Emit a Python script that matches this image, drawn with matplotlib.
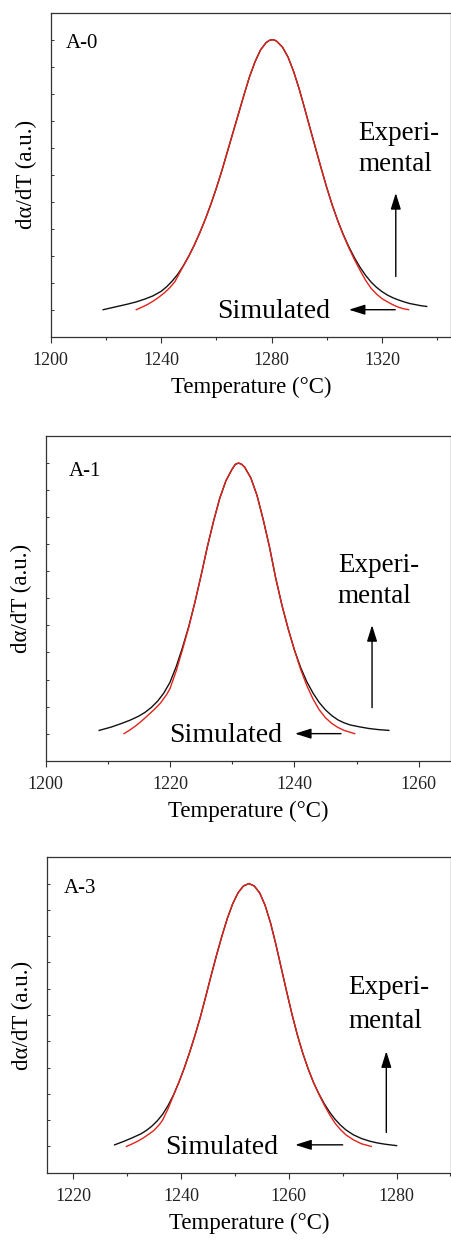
import matplotlib
matplotlib.use("Agg")
import matplotlib.pyplot as plt
from matplotlib.ticker import MultipleLocator

plt.rcParams.update(
    {
        "font.family": ["Liberation Serif", "DejaVu Serif"],
        "axes.linewidth": 0.9,
        "axes.edgecolor": "#333333",
        "xtick.color": "#333333",
        "ytick.color": "#333333",
        "xtick.labelcolor": "#222222",
    }
)

COLORS = {"exp": "#111111", "sim": "#e3231b"}

# ---- A-0 ----
A0_T_EXP = [1219, 1222, 1225, 1228, 1231, 1234, 1237, 1240, 1242, 1244,
            1246, 1248, 1250, 1252, 1254, 1256, 1258, 1260, 1262, 1264,
            1266, 1268, 1270, 1272, 1274, 1276, 1278, 1279.3, 1280.3, 1281.2,
            1282, 1284, 1286, 1288, 1290, 1292, 1294, 1296, 1298, 1300,
            1302, 1304, 1306, 1308, 1310, 1312, 1314, 1316, 1318, 1320,
            1322, 1324, 1326, 1328, 1330, 1332, 1334, 1336.2]
A0_EXP = [0.000, 0.007, 0.014, 0.021, 0.029, 0.039, 0.051, 0.068, 0.085, 0.106,
          0.131, 0.162, 0.198, 0.239, 0.285, 0.335, 0.390, 0.450, 0.515, 0.585,
          0.655, 0.725, 0.795, 0.862, 0.918, 0.962, 0.989, 0.998, 1.000, 0.998,
          0.993, 0.972, 0.935, 0.882, 0.818, 0.745, 0.670, 0.596, 0.523, 0.452,
          0.387, 0.329, 0.278, 0.233, 0.193, 0.158, 0.128, 0.103, 0.083, 0.067,
          0.054, 0.044, 0.036, 0.029, 0.023, 0.019, 0.015, 0.012]
A0_T_SIM = [1231, 1233, 1235, 1237, 1239, 1241, 1243, 1245, 1246, 1248,
            1250, 1252, 1254, 1256, 1258, 1260, 1262, 1264, 1266, 1268,
            1270, 1272, 1274, 1276, 1278, 1279.3, 1280.3, 1281.2, 1282, 1284,
            1286, 1288, 1290, 1292, 1294, 1296, 1298, 1300, 1302, 1304,
            1306, 1308, 1310, 1312, 1314, 1316, 1318, 1320, 1322, 1324,
            1326, 1328, 1329.6]
A0_SIM = [0.000, 0.009, 0.019, 0.031, 0.045, 0.061, 0.080, 0.104, 0.123, 0.161,
          0.198, 0.239, 0.285, 0.335, 0.390, 0.450, 0.515, 0.585, 0.655, 0.725,
          0.795, 0.862, 0.918, 0.962, 0.989, 0.998, 1.000, 0.998, 0.993, 0.972,
          0.935, 0.882, 0.818, 0.745, 0.670, 0.596, 0.523, 0.452, 0.387, 0.329,
          0.276, 0.229, 0.186, 0.147, 0.110, 0.080, 0.058, 0.041, 0.029, 0.018,
          0.009, 0.003, 0.000]

# ---- A-1 ----
A1_T_EXP = [1208.6, 1210.5, 1212.0, 1213.5, 1215.0, 1216.0, 1217.0, 1218.0, 1219.0, 1220.0,
            1221, 1222, 1223, 1224, 1225, 1226, 1227, 1228, 1229, 1230,
            1230.5, 1231.0, 1231.5, 1232, 1233, 1234, 1235, 1236, 1237, 1238,
            1239, 1240, 1241, 1242, 1243, 1244, 1245, 1246, 1247, 1248,
            1249, 1250.5, 1252, 1253.5, 1255.2]
A1_EXP = [0.012, 0.024, 0.036, 0.049, 0.065, 0.079, 0.097, 0.120, 0.150, 0.190,
          0.248, 0.318, 0.395, 0.485, 0.585, 0.690, 0.785, 0.870, 0.935, 0.978,
          0.995, 1.000, 0.996, 0.985, 0.945, 0.880, 0.790, 0.690, 0.575, 0.475,
          0.388, 0.310, 0.245, 0.192, 0.150, 0.115, 0.088, 0.067, 0.051, 0.040,
          0.032, 0.025, 0.019, 0.015, 0.012]
A1_T_SIM = [1212.6, 1213.5, 1214.5, 1215.5, 1216.5, 1217.5, 1218.5, 1219.5, 1220.0, 1221.0,
            1222, 1223, 1224, 1225, 1226, 1227, 1228, 1229, 1230, 1230.5,
            1231.0, 1231.5, 1232, 1233, 1234, 1235, 1236, 1237, 1238, 1239,
            1240, 1241, 1242, 1243, 1244, 1245, 1246, 1247, 1248, 1249,
            1249.7]
A1_SIM = [0.000, 0.013, 0.029, 0.048, 0.069, 0.090, 0.114, 0.146, 0.167, 0.232,
          0.310, 0.392, 0.485, 0.585, 0.690, 0.785, 0.870, 0.935, 0.978, 0.995,
          1.000, 0.996, 0.985, 0.945, 0.880, 0.790, 0.690, 0.575, 0.475, 0.388,
          0.310, 0.238, 0.178, 0.128, 0.088, 0.059, 0.038, 0.023, 0.012, 0.005,
          0.000]

# ---- A-3 ----
A3_T_EXP = [1227.7, 1229.5, 1231.0, 1232.6, 1233.6, 1234.6, 1235.6, 1236.6, 1237.6, 1238.6,
            1239.6, 1240.6, 1241.6, 1242.6, 1243.6, 1244.6, 1245.6, 1246.6, 1247.6, 1248.6,
            1249.6, 1250.6, 1251.6, 1252.6, 1253.6, 1254.6, 1255.6, 1256.6, 1257.6, 1258.6,
            1259.6, 1260.6, 1261.6, 1262.6, 1263.6, 1264.6, 1265.6, 1266.6, 1267.6, 1268.6,
            1269.6, 1270.6, 1272.0, 1273.5, 1275.0, 1276.5, 1278.0, 1280.0]
A3_EXP = [0.006, 0.020, 0.033, 0.048, 0.061, 0.077, 0.097, 0.122, 0.155, 0.195,
          0.243, 0.297, 0.357, 0.422, 0.492, 0.570, 0.650, 0.727, 0.800, 0.867,
          0.923, 0.965, 0.991, 1.000, 0.991, 0.965, 0.918, 0.852, 0.770, 0.680,
          0.590, 0.503, 0.424, 0.355, 0.295, 0.243, 0.200, 0.162, 0.130, 0.103,
          0.081, 0.063, 0.044, 0.030, 0.020, 0.013, 0.008, 0.003]
A3_T_SIM = [1229.9, 1231.0, 1232.0, 1233.0, 1234.0, 1235.0, 1236.0, 1236.6, 1237.6, 1238.6,
            1239.6, 1240.6, 1241.6, 1242.6, 1243.6, 1244.6, 1245.6, 1246.6, 1247.6, 1248.6,
            1249.6, 1250.6, 1251.6, 1252.6, 1253.6, 1254.6, 1255.6, 1256.6, 1257.6, 1258.6,
            1259.6, 1260.6, 1261.6, 1262.6, 1263.6, 1264.6, 1265.6, 1266.6, 1267.6, 1268.6,
            1269.6, 1270.6, 1272.0, 1273.5, 1275.3]
A3_SIM = [0.000, 0.010, 0.020, 0.032, 0.046, 0.061, 0.083, 0.100, 0.143, 0.193,
          0.243, 0.297, 0.357, 0.422, 0.492, 0.570, 0.650, 0.727, 0.800, 0.867,
          0.923, 0.965, 0.991, 1.000, 0.991, 0.965, 0.918, 0.852, 0.770, 0.680,
          0.590, 0.503, 0.424, 0.355, 0.295, 0.243, 0.198, 0.157, 0.120, 0.088,
          0.064, 0.044, 0.025, 0.010, 0.000]

LABELS = ["A-0", "A-1", "A-3"]
XLIMS = [(1200, 1345), (1200, 1265.2), (1215.1, 1290.1)]
XMAJOR = [40, 20, 20]
XMINOR = [20, 10, 10]

# annotation anchors in data units: label, "Experi-", "mental", up arrow, "Simulated", left arrow
ANNOT = [
    dict(lab=(1205.6, 0.969), exp=(1311.3, 0.630), men=0.512, up=(1325.0, 0.123, 0.432),
         sim=(1260.4, -0.031), left=(1324.8, 1308.0, 0.0)),
    dict(lab=(1203.7, 0.953), exp=(1247.0, 0.599), men=0.481, up=(1252.5, 0.096, 0.401),
         sim=(1219.9, -0.031), left=(1247.5, 1240.1, 0.0)),
    dict(lab=(1218.3, 0.966), exp=(1271.1, 0.578), men=0.451, up=(1278.1, 0.053, 0.362),
         sim=(1237.1, -0.028), left=(1270.0, 1261.2, 0.006)),
]

# axes boxes in pixels: left, top, bottom (figure 452 x 1240)
BOXES = [(50.7, 12.7, 336.7), (45.7, 436.0, 760.7), (46.7, 857.3, 1172.7)]
W, H = 452.0, 1240.0

DATA = [
    (A0_T_EXP, A0_EXP, A0_T_SIM, A0_SIM),
    (A1_T_EXP, A1_EXP, A1_T_SIM, A1_SIM),
    (A3_T_EXP, A3_EXP, A3_T_SIM, A3_SIM),
]

ARROW = dict(arrowstyle="-|>,head_length=0.7,head_width=0.22", color="black",
             lw=1.0, mutation_scale=14, shrinkA=0, shrinkB=0)


def plot_panel(fig, i):
    left, top, bottom = BOXES[i]
    ax = fig.add_axes([left / W, 1 - bottom / H, (451.0 - left) / W, (bottom - top) / H])
    t_exp, exp, t_sim, sim = DATA[i]
    ax.plot(t_exp, exp, color=COLORS["exp"], lw=1.0, solid_joinstyle="round")
    ax.plot(t_sim, sim, color=COLORS["sim"], lw=1.0, solid_joinstyle="round")

    ax.set_xlim(*XLIMS[i])
    ax.set_ylim(-0.1, 1.1)
    ax.xaxis.set_major_locator(MultipleLocator(XMAJOR[i]))
    ax.xaxis.set_minor_locator(MultipleLocator(XMINOR[i]))
    ax.yaxis.set_major_locator(MultipleLocator(0.1))
    ax.tick_params(axis="x", which="major", direction="out", length=4, width=0.8,
                   labelsize=13, pad=7, top=False)
    ax.tick_params(axis="x", which="minor", direction="out", length=2.2, width=0.8, top=False)
    ax.tick_params(axis="y", which="major", direction="in", length=2, width=0.7,
                   labelleft=False)
    ax.set_xlabel("Temperature (°C)", fontsize=16.5, labelpad=6)
    ax.set_ylabel("dα/dT (a.u.)", fontsize=16.5, labelpad=10)

    a = ANNOT[i]
    ax.text(a["lab"][0], a["lab"][1], LABELS[i], fontsize=15, va="baseline", ha="left")
    ax.text(a["exp"][0], a["exp"][1], "Experi-", fontsize=19.5, va="baseline", ha="left")
    ax.text(a["exp"][0], a["men"], "mental", fontsize=19.5, va="baseline", ha="left")
    ax.text(a["sim"][0], a["sim"][1], "Simulated", fontsize=20, va="baseline", ha="left")
    ux, uy0, uy1 = a["up"]
    ax.annotate("", xy=(ux, uy1), xytext=(ux, uy0), arrowprops=ARROW)
    lx0, lx1, ly = a["left"]
    ax.annotate("", xy=(lx1, ly), xytext=(lx0, ly), arrowprops=ARROW)
    return ax


fig = plt.figure(figsize=(4.52, 12.4), dpi=100)
for i in range(3):
    plot_panel(fig, i)
fig.savefig("out.png", dpi=100)
